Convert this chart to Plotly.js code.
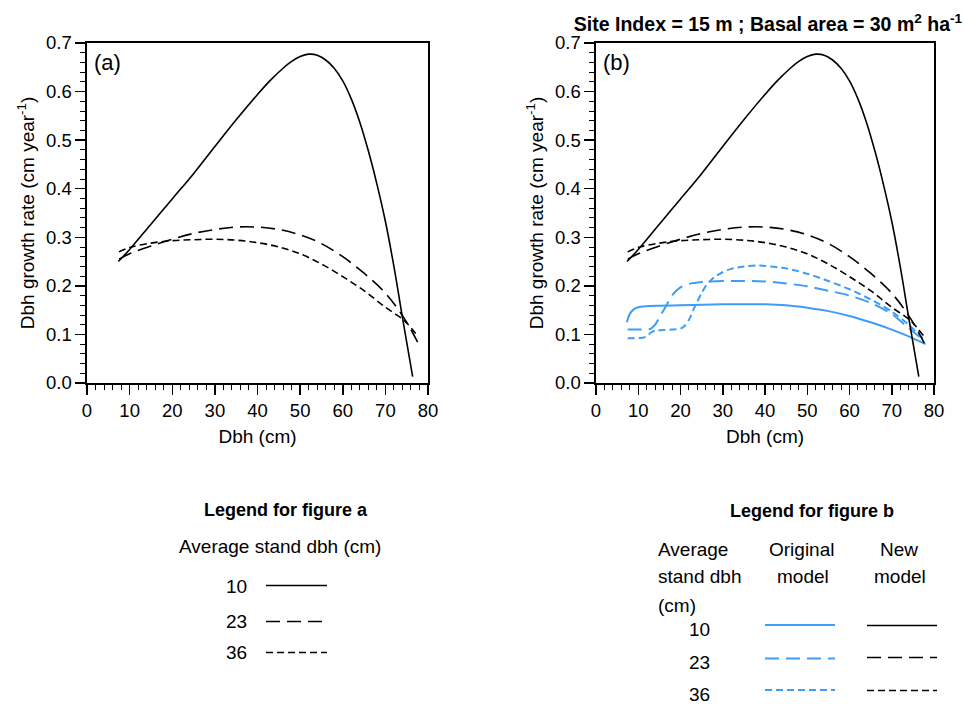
<!DOCTYPE html>
<html>
<head>
<meta charset="utf-8">
<script src="https://cdn.plot.ly/plotly-3.0.1.min.js"></script>
<style>html,body{margin:0;padding:0;background:#fff;}#chart{width:963px;height:719px;}</style>
</head>
<body>
<div id="chart"></div>
<script>
// ---- data (Dbh in cm, growth rate in cm/year) ----
const dbhNew10  = [7.35, 10, 15, 20, 25, 30, 35, 40, 43, 46, 48, 50, 52, 54, 56, 58, 60, 62, 64, 66, 68, 70, 72, 74.1, 76.4];
const rateNew10 = [0.25, 0.275, 0.327, 0.379, 0.431, 0.487, 0.542, 0.594, 0.623, 0.648, 0.662, 0.672, 0.677, 0.675, 0.665, 0.648, 0.622, 0.585, 0.537, 0.478, 0.41, 0.333, 0.24, 0.13, 0.013];

const dbhNew23  = [7.5, 10, 15, 20, 25, 30, 35, 40, 45, 50, 55, 60, 65, 70, 74.5, 77.7];
const rateNew23 = [0.255, 0.266, 0.282, 0.296, 0.308, 0.316, 0.321, 0.321, 0.316, 0.305, 0.287, 0.26, 0.226, 0.185, 0.132, 0.082];

const dbhNew36  = [7.5, 10, 15, 20, 25, 30, 35, 40, 45, 50, 55, 60, 65, 70, 74.5, 77.7];
const rateNew36 = [0.27, 0.279, 0.288, 0.293, 0.295, 0.296, 0.294, 0.289, 0.28, 0.266, 0.245, 0.219, 0.19, 0.156, 0.128, 0.095];

const dbhOrig10  = [7.3, 8, 9, 10, 12, 15, 20, 30, 40, 45, 50, 55, 60, 65, 70, 74, 78];
const rateOrig10 = [0.125, 0.142, 0.152, 0.156, 0.158, 0.159, 0.16, 0.162, 0.162, 0.16, 0.155, 0.148, 0.138, 0.125, 0.11, 0.096, 0.08];

const dbhOrig23  = [7.5, 10, 12, 13, 14, 15, 16, 17, 18, 19, 20, 22, 25, 30, 35, 40, 45, 50, 55, 60, 65, 70, 74, 78];
const rateOrig23 = [0.11, 0.11, 0.11, 0.112, 0.12, 0.135, 0.15, 0.165, 0.18, 0.19, 0.197, 0.204, 0.208, 0.21, 0.21, 0.209, 0.205, 0.199, 0.19, 0.18, 0.165, 0.142, 0.113, 0.085];

const dbhOrig36  = [7.5, 9, 11, 12, 13, 14, 16, 18, 20, 21, 22, 23, 24, 25, 26, 27, 28, 30, 32, 35, 38, 40, 45, 50, 55, 60, 65, 70, 74, 78];
const rateOrig36 = [0.092, 0.092, 0.093, 0.096, 0.104, 0.108, 0.109, 0.11, 0.112, 0.118, 0.13, 0.15, 0.168, 0.185, 0.2, 0.21, 0.218, 0.228, 0.235, 0.24, 0.242, 0.241, 0.236, 0.225, 0.21, 0.193, 0.172, 0.147, 0.12, 0.086];

const xTickVals = [0, 10, 20, 30, 40, 50, 60, 70, 80];
const yTickVals = [0.0, 0.1, 0.2, 0.3, 0.4, 0.5, 0.6, 0.7];

const legendLabels = ['10', '23', '36'];

// ---- styles ----
const FONT = 'Liberation Sans, Arial, Helvetica, sans-serif';
const BLUE = '#3d9df7';
const BLACK = '#000000';
const DASH_SOLID = 'solid';
const DASH_LONG = '14px,7px';
const DASH_SHORT = '7px,4px';
const W = 963, H = 719;
const px = v => v / W;
const py = v => 1 - v / H;

function line(x, y, xa, ya, color, dash, width, smooth) {
  return {x: x, y: y, xaxis: xa, yaxis: ya, type: 'scatter', mode: 'lines',
    line: {color: color, dash: dash, width: width, shape: 'spline', smoothing: smooth},
    showlegend: false, hoverinfo: 'skip'};
}

const traces = [
  line(dbhNew10, rateNew10, 'x', 'y', BLACK, DASH_SOLID, 1.6, 1),
  line(dbhNew23, rateNew23, 'x', 'y', BLACK, DASH_LONG, 1.6, 1),
  line(dbhNew36, rateNew36, 'x', 'y', BLACK, DASH_SHORT, 1.6, 1),
  line(dbhOrig10, rateOrig10, 'x2', 'y2', BLUE, DASH_SOLID, 2, 0.8),
  line(dbhOrig23, rateOrig23, 'x2', 'y2', BLUE, DASH_LONG, 2, 0.8),
  line(dbhOrig36, rateOrig36, 'x2', 'y2', BLUE, DASH_SHORT, 2, 0.8),
  line(dbhNew10, rateNew10, 'x2', 'y2', BLACK, DASH_SOLID, 1.6, 1),
  line(dbhNew23, rateNew23, 'x2', 'y2', BLACK, DASH_LONG, 1.6, 1),
  line(dbhNew36, rateNew36, 'x2', 'y2', BLACK, DASH_SHORT, 1.6, 1)
];

function xAxis(domain, anchor) {
  return {domain: domain, anchor: anchor, range: [0, 80], tickmode: 'array', tickvals: xTickVals,
    ticks: 'outside', ticklen: 10, tickwidth: 1.5, tickcolor: BLACK,
    minor: {dtick: 2, tick0: 0, ticks: 'outside', ticklen: 5, tickwidth: 1, tickcolor: BLACK, showgrid: false},
    showline: true, mirror: true, linewidth: 1.6, linecolor: BLACK,
    showgrid: false, zeroline: false, automargin: false,
    tickfont: {family: FONT, size: 18.5, color: BLACK},
    title: {text: 'Dbh (cm)', font: {family: FONT, size: 19, color: BLACK}, standoff: 10}};
}
function yAxis(domain, anchor) {
  return {domain: domain, anchor: anchor, range: [0, 0.7], tickmode: 'array', tickvals: yTickVals,
    tickformat: '.1f',
    ticks: 'outside', ticklen: 10, tickwidth: 1.5, tickcolor: BLACK,
    minor: {dtick: 0.02, tick0: 0, ticks: 'outside', ticklen: 5, tickwidth: 1, tickcolor: BLACK, showgrid: false},
    showline: true, mirror: true, linewidth: 1.6, linecolor: BLACK,
    showgrid: false, zeroline: false, automargin: false,
    tickfont: {family: FONT, size: 18.5, color: BLACK},
    title: {text: 'Dbh growth rate (cm year<sup>-1</sup>)', font: {family: FONT, size: 19, color: BLACK}, standoff: 6}};
}

function txt(text, x, y, xanchor, size, bold) {
  return {text: bold ? '<b>' + text + '</b>' : text, x: px(x), y: py(y), xref: 'paper', yref: 'paper',
    xanchor: xanchor, yanchor: 'middle', showarrow: false,
    font: {family: FONT, size: size, color: BLACK}};
}

const annotations = [
  txt('(a)', 92, 62, 'left', 22),
  txt('(b)', 601, 62, 'left', 22),
  txt('Legend for figure a', 286, 510, 'center', 18, true),
  txt('Average stand dbh (cm)', 280, 546, 'center', 19),
  txt('Legend for figure b', 811.5, 511, 'center', 18, true),
  txt('Average', 656, 549, 'left', 19),
  txt('stand dbh', 656, 576, 'left', 19),
  txt('(cm)', 656, 605, 'left', 19),
  txt('Original', 801.5, 549, 'center', 19),
  txt('model', 802.5, 576, 'center', 19),
  txt('New', 899, 549, 'center', 19),
  txt('model', 899.5, 576, 'center', 19)
];
const legARowY = [586, 621, 652];
const legBRowY = [629, 662, 694];
legendLabels.forEach((lab, i) => {
  annotations.push(txt(lab, 236.5, legARowY[i], 'center', 19));
  annotations.push(txt(lab, 699, legBRowY[i], 'center', 19));
});

const dashes = [DASH_SOLID, DASH_LONG, DASH_SHORT];
function seg(x0, x1, y, color, dash, width) {
  return {type: 'line', xref: 'paper', yref: 'paper', x0: px(x0), x1: px(x1), y0: py(y), y1: py(y),
    line: {color: color, dash: dash, width: width}};
}
const shapes = [];
const legALineY = [585.5, 621.5, 652.5];
const legBBlueY = [625, 658.5, 690];
const legBBlackY = [625.5, 657.5, 690.5];
dashes.forEach((d, i) => {
  shapes.push(seg(266, 327, legALineY[i], BLACK, d, 1.6));
  shapes.push(seg(765, 835, legBBlueY[i], BLUE, d, 2));
  shapes.push(seg(867, 937, legBBlackY[i], BLACK, d, 1.6));
});

const layout = {
  width: W, height: H,
  margin: {l: 0, r: 0, t: 0, b: 0, pad: 0},
  paper_bgcolor: '#ffffff', plot_bgcolor: '#ffffff',
  showlegend: false,
  font: {family: FONT, color: BLACK},
  title: {text: '<b>Site Index = 15 m ; Basal area = 30 m<sup>2</sup> ha<sup>-1</sup></b>',
    x: px(768), xref: 'paper', xanchor: 'center', y: py(24), yref: 'container', yanchor: 'middle',
    font: {family: FONT, size: 19.5, color: BLACK}},
  xaxis: xAxis([px(87), px(428)], 'y'),
  yaxis: yAxis([py(383), py(43)], 'x'),
  xaxis2: xAxis([px(596), px(934)], 'y2'),
  yaxis2: yAxis([py(383), py(43)], 'x2'),
  annotations: annotations,
  shapes: shapes
};

Plotly.newPlot('chart', traces, layout, {displayModeBar: false, staticPlot: true});
</script>
</body>
</html>
